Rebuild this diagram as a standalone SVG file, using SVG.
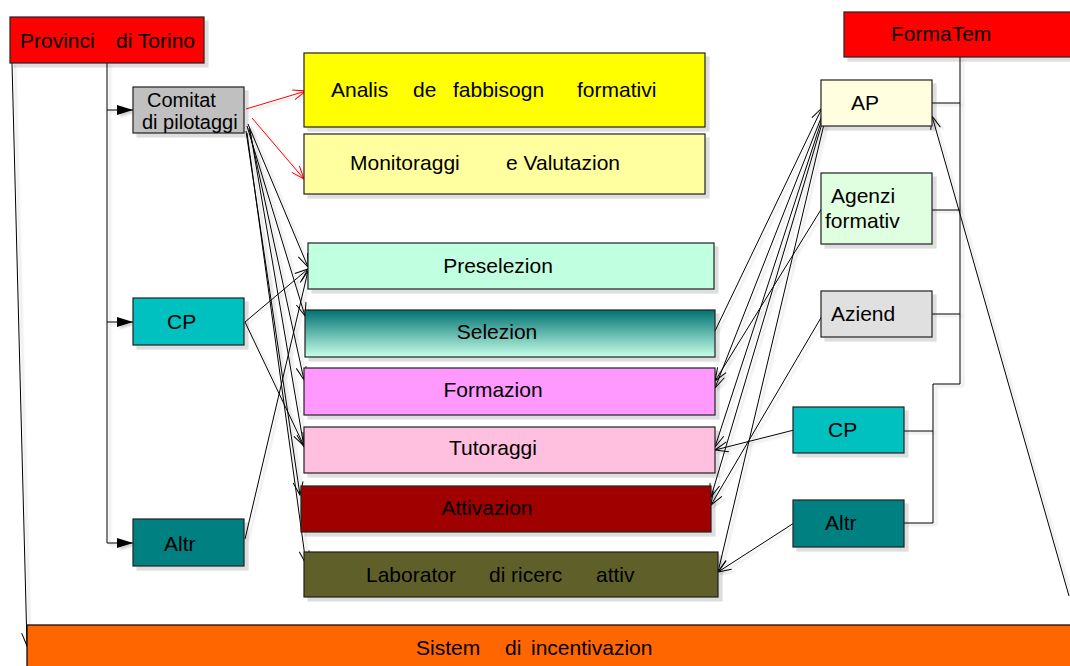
<svg xmlns="http://www.w3.org/2000/svg" width="1070" height="666" viewBox="0 0 1070 666">
<defs>
<style>
.bx{stroke:#222;stroke-width:1.2;filter:url(#sh)}
.t{font-family:"Liberation Sans",Arial,sans-serif;font-size:21px;fill:#000}
.s{font-size:20px}
.c{text-anchor:middle}
.ln{fill:none;stroke:#000;stroke-width:1}
.red{fill:none;stroke:#FF0000;stroke-width:1}
</style>
<filter id="sh" x="-10%" y="-10%" width="130%" height="140%">
<feDropShadow dx="4" dy="4" stdDeviation="0.6" flood-color="#000" flood-opacity="0.13"/>
</filter>
<filter id="lsh" x="-10%" y="-10%" width="130%" height="130%">
<feDropShadow dx="3" dy="2" stdDeviation="0.8" flood-color="#000" flood-opacity="0.18"/>
</filter>
<linearGradient id="gSel" x1="0" y1="0" x2="0" y2="1">
<stop offset="0" stop-color="#007272"/>
<stop offset="1" stop-color="#C8FFE8"/>
</linearGradient>
<marker id="oa" markerWidth="16" markerHeight="12" refX="14" refY="6" orient="auto" markerUnits="userSpaceOnUse">
<path d="M1,1 L14,6 L1,11" fill="none" stroke="#000" stroke-width="1"/>
</marker>
<marker id="ra" markerWidth="16" markerHeight="12" refX="14" refY="6" orient="auto" markerUnits="userSpaceOnUse">
<path d="M1,1 L14,6 L1,11" fill="none" stroke="#FF0000" stroke-width="1"/>
</marker>
<marker id="fa" markerWidth="16" markerHeight="12" refX="16" refY="5" orient="auto" markerUnits="userSpaceOnUse">
<path d="M0,0 L16,5 L0,10 Z" fill="#000"/>
</marker>
</defs>
<rect width="1070" height="666" fill="#FFFFFF"/>

<g id="connectors" filter="url(#lsh)">
<polyline class="ln" points="107,63 107,543"/>
<line class="ln" x1="107" y1="110" x2="133" y2="110" marker-end="url(#fa)"/>
<line class="ln" x1="107" y1="322" x2="133" y2="322" marker-end="url(#fa)"/>
<line class="ln" x1="107" y1="543" x2="133" y2="543" marker-end="url(#fa)"/>
<line class="ln" x1="12" y1="63" x2="27" y2="646" marker-end="url(#oa)"/>
<line class="red" x1="246" y1="109" x2="306" y2="91" marker-end="url(#ra)"/>
<line class="red" x1="252" y1="118" x2="304" y2="179" marker-end="url(#ra)"/>
<line class="ln" x1="248" y1="124" x2="308" y2="267" marker-end="url(#oa)"/>
<line class="ln" x1="247" y1="126" x2="305" y2="316" marker-end="url(#oa)"/>
<line class="ln" x1="249" y1="128" x2="304" y2="380" marker-end="url(#oa)"/>
<line class="ln" x1="250" y1="130" x2="304" y2="447" marker-end="url(#oa)"/>
<line class="ln" x1="246" y1="131" x2="300" y2="495" marker-end="url(#oa)"/>
<line class="ln" x1="247" y1="133" x2="306" y2="564" marker-end="url(#oa)"/>
<line class="ln" x1="245" y1="322" x2="308" y2="269" marker-end="url(#oa)"/>
<line class="ln" x1="245" y1="322" x2="304" y2="446" marker-end="url(#oa)"/>
<line class="ln" x1="245" y1="539" x2="308" y2="271" marker-end="url(#oa)"/>
<polyline class="ln" points="960,57 960,384 933,384 933,523 904,523"/>
<line class="ln" x1="932" y1="103" x2="960" y2="103"/>
<line class="ln" x1="932" y1="210" x2="960" y2="210"/>
<line class="ln" x1="932" y1="314" x2="960" y2="314"/>
<line class="ln" x1="904" y1="431" x2="933" y2="431"/>
<line class="ln" x1="715" y1="331" x2="822" y2="108" marker-end="url(#oa)"/>
<line class="ln" x1="823" y1="113" x2="715" y2="388" marker-end="url(#oa)"/>
<line class="ln" x1="822" y1="208" x2="715" y2="381" marker-end="url(#oa)"/>
<line class="ln" x1="823" y1="116" x2="715" y2="447" marker-end="url(#oa)"/>
<line class="ln" x1="823" y1="120" x2="711" y2="497" marker-end="url(#oa)"/>
<line class="ln" x1="822" y1="316" x2="711" y2="505" marker-end="url(#oa)"/>
<line class="ln" x1="794" y1="430" x2="715" y2="450" marker-end="url(#oa)"/>
<line class="ln" x1="794" y1="523" x2="718" y2="572" marker-end="url(#oa)"/>
<line class="ln" x1="824" y1="124" x2="718" y2="572" marker-end="url(#oa)"/>
<line class="ln" x1="1069" y1="596" x2="932" y2="116" marker-end="url(#oa)"/>
</g>

<g id="provincia">
<rect class="bx" x="10" y="17" width="194" height="46" fill="#FF0000"/>
<text class="t" y="48"><tspan x="20">Provinci</tspan><tspan x="116">di Torino</tspan></text>
</g>
<g id="comitato">
<rect class="bx" x="133" y="87" width="111" height="46" fill="#C0C0C0"/>
<text class="t s" x="147" y="107">Comitat</text>
<text class="t s" x="142" y="129">di pilotaggi</text>
</g>
<g id="cp-left">
<rect class="bx" x="133" y="298" width="111" height="47" fill="#00C0C0"/>
<text class="t" x="167" y="329">CP</text>
</g>
<g id="altr-left">
<rect class="bx" x="133" y="519" width="111" height="47" fill="#008080"/>
<text class="t" x="164" y="551">Altr</text>
</g>
<g id="analisi">
<rect class="bx" x="304" y="53" width="401" height="74" fill="#FFFF00"/>
<text class="t" y="97"><tspan x="331">Analis</tspan><tspan x="413">de</tspan><tspan x="453">fabbisogn</tspan><tspan x="577">formativi</tspan></text>
</g>
<g id="monitoraggio">
<rect class="bx" x="304" y="134" width="401" height="60" fill="#FFFFA0"/>
<text class="t" y="170"><tspan x="350">Monitoraggi</tspan><tspan x="506">e Valutazion</tspan></text>
</g>
<g id="preselezione">
<rect class="bx" x="308" y="243" width="406" height="46" fill="#C0FFE0"/>
<text class="t c" x="498" y="273">Preselezion</text>
</g>
<g id="selezione">
<rect class="bx" x="305" y="310" width="410" height="47" fill="url(#gSel)"/>
<text class="t c" x="497" y="339">Selezion</text>
</g>
<g id="formazione">
<rect class="bx" x="304" y="368" width="411" height="47" fill="#FF99FF"/>
<text class="t c" x="493" y="397">Formazion</text>
</g>
<g id="tutoraggio">
<rect class="bx" x="304" y="427" width="411" height="46" fill="#FFC0E0"/>
<text class="t c" x="493" y="455">Tutoraggi</text>
</g>
<g id="attivazione">
<rect class="bx" x="301" y="486" width="410" height="46" fill="#A00000"/>
<text class="t c" x="487" y="515">Attivazion</text>
</g>
<g id="laboratorio">
<rect class="bx" x="304" y="552" width="414" height="45" fill="#5E5E2A"/>
<text class="t" y="582"><tspan x="366">Laborator</tspan><tspan x="489">di</tspan><tspan x="511">ricerc</tspan><tspan x="596">attiv</tspan></text>
</g>
<g id="sistema">
<rect x="27" y="625" width="1060" height="50" fill="#FF6600" stroke="#000" stroke-width="1.2"/>
<text class="t" y="655"><tspan x="416">Sistem</tspan><tspan x="505">di</tspan><tspan x="531">incentivazion</tspan></text>
</g>
<g id="formatemp">
<rect class="bx" x="844" y="12" width="240" height="45" fill="#FF0000"/>
<text class="t" x="891" y="41">FormaTem</text>
</g>
<g id="ap">
<rect class="bx" x="821" y="80" width="111" height="46" fill="#FFFFE0"/>
<text class="t" x="851" y="110">AP</text>
</g>
<g id="agenzie">
<rect class="bx" x="821" y="173" width="111" height="71" fill="#E0FFE0"/>
<text class="t" x="831" y="203">Agenzi</text>
<text class="t" x="825" y="228">formativ</text>
</g>
<g id="aziende">
<rect class="bx" x="821" y="291" width="111" height="46" fill="#E0E0E0"/>
<text class="t" x="831" y="321">Aziend</text>
</g>
<g id="cp-right">
<rect class="bx" x="793" y="407" width="111" height="46" fill="#00C0C0"/>
<text class="t" x="828" y="437">CP</text>
</g>
<g id="altr-right">
<rect class="bx" x="793" y="500" width="111" height="47" fill="#008080"/>
<text class="t" x="825" y="530">Altr</text>
</g>
</svg>
